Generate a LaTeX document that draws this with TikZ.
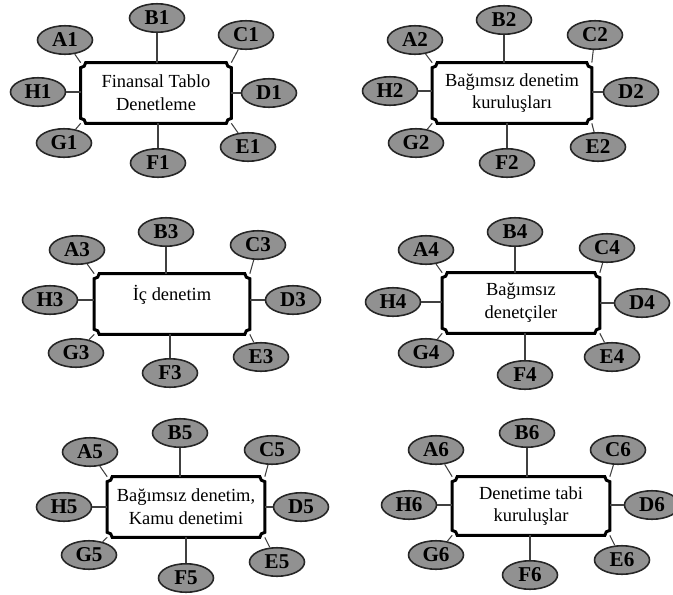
\documentclass[tikz,border=0pt]{standalone}
\usepackage{fontspec}
\setmainfont{Liberation Serif}
\usetikzlibrary{shapes.geometric}
\definecolor{ovalgray}{RGB}{145,145,145}
\tikzset{
x=0.02cm, y=-0.02cm, % one unit is one pixel of the reference
sat/.style={ellipse, draw=black!85, line width=0.9pt, fill=ovalgray, minimum width=1.1cm, minimum height=0.57cm, inner sep=0pt, font=\bfseries\fontsize{12}{12}\selectfont}, % the grey ovals
hub/.style={rectangle, inner sep=0pt, align=center, font=\fontsize{10.5}{13}\selectfont}, % the text in the middle
link/.style={black!75, line width=0.6pt}, % the spokes
frame/.style={line width=1.7pt, x=1cm, y=1cm}, % the plaque border
}
% plaque border with concave corners round a hub node
\newcommand{\plaqueframe}[1]{%
  \draw[frame] ([xshift=0.1cm]#1.north west) -- ([xshift=-0.1cm]#1.north east)
    arc[start angle=180, end angle=270, radius=0.1cm] -- ([yshift=0.1cm]#1.south east)
    arc[start angle=90, end angle=180, radius=0.1cm] -- ([xshift=0.1cm]#1.south west)
    arc[start angle=0, end angle=90, radius=0.1cm] -- ([yshift=-0.1cm]#1.north west)
    arc[start angle=-90, end angle=0, radius=0.1cm] -- cycle;}

\begin{document}
\begin{tikzpicture}
    \useasboundingbox (0,0) rectangle (673,595);
    % the six hubs
    \node[hub, minimum width=3.0cm, minimum height=1.2cm] (k1) at (156,93) {Finansal Tablo\\Denetleme};
    \node[hub, minimum width=3.18cm, minimum height=1.2cm] (k2) at (512,93) {Bağımsız denetim\\kuruluşları};
    \node[hub, minimum width=3.1cm, minimum height=1.2cm] (k3) at (172,304) {İç denetim\\\mbox{}};
    \node[hub, minimum width=3.14cm, minimum height=1.2cm] (k4) at (521,303) {Bağımsız\\denetçiler};
    \node[hub, minimum width=3.14cm, minimum height=1.2cm] (k5) at (186,507) {Bağımsız denetim,\\Kamu denetimi};
    \node[hub, minimum width=3.14cm, minimum height=1.16cm] (k6) at (531,506) {Denetime tabi\\kuruluşlar};
    \foreach \k in {1,...,6}
      \plaqueframe{k\k};
    % the ovals of each hub
    \foreach \n/\L/\px/\py in {a/A/65/40, b/B/157/18, c/C/246/35, d/D/269/93, e/E/248/147, f/F/158/163, g/G/64/143, h/H/38/92}
      \node[sat] (\n1) at (\px,\py) {\L1};
    \foreach \n/\L/\px/\py in {a/A/415/40, b/B/504/20, c/C/595/35, d/D/631/92, e/E/598/147, f/F/507/163, g/G/416/143, h/H/390/91}
      \node[sat] (\n2) at (\px,\py) {\L2};
    \foreach \n/\L/\px/\py in {a/A/77/250, b/B/166/232, c/C/258/245, d/D/293/300, e/E/261/357, f/F/170/373, g/G/76/353, h/H/50/300}
      \node[sat] (\n3) at (\px,\py) {\L3};
    \foreach \n/\L/\px/\py in {a/A/426/250, b/B/515/232, c/C/607/248, d/D/642/303, e/E/612/357, f/F/525/375, g/G/426/353, h/H/393/302}
      \node[sat] (\n4) at (\px,\py) {\L4};
    \foreach \n/\L/\px/\py in {a/A/90/452, b/B/180/433, c/C/272/450, d/D/301/507, e/E/277/562, f/F/186/578, g/G/89/555, h/H/64/507}
      \node[sat] (\n5) at (\px,\py) {\L5};
    \foreach \n/\L/\px/\py in {a/A/436/450, b/B/527/433, c/C/618/450, d/D/652/505, e/E/622/560, f/F/530/575, g/G/436/555, h/H/409/505}
      \node[sat] (\n6) at (\px,\py) {\L6};
    % spokes
    \foreach \k in {1,...,6} {
      \draw[link] (a\k) -- (k\k.north west);
      \draw[link] (c\k) -- (k\k.north east);
      \draw[link] (e\k) -- (k\k.south east);
      \draw[link] (g\k) -- (k\k.south west);
      \draw[link] (b\k) -- (b\k |- k\k.north);
      \draw[link] (f\k) -- (f\k |- k\k.south);
      \draw[link] (h\k) -- (h\k -| k\k.west);
      \draw[link] (d\k) -- (d\k -| k\k.east);
    }
\end{tikzpicture}
\end{document}
